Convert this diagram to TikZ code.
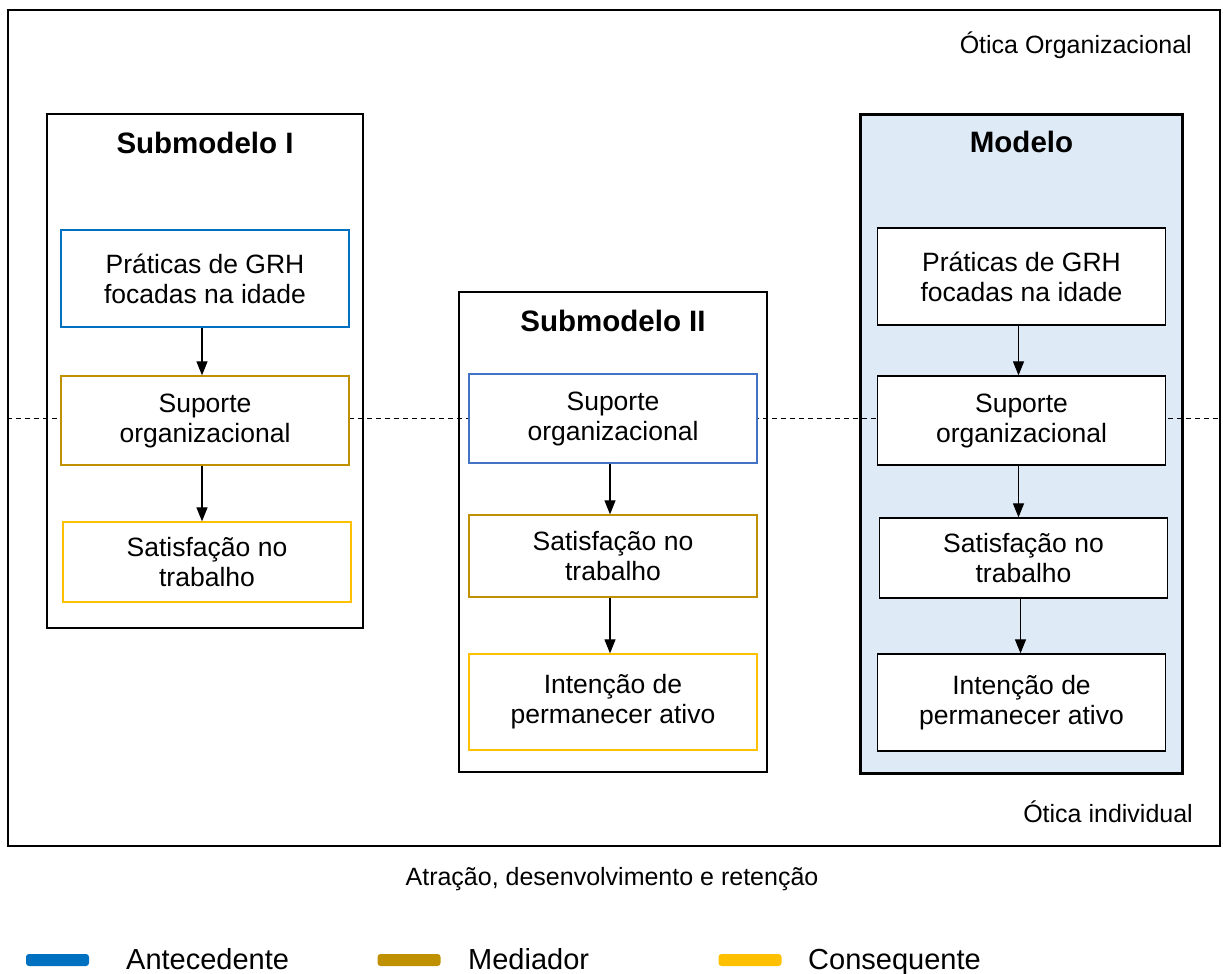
\documentclass[tikz,border=0pt]{standalone}
\usepackage{fontspec}
\setmainfont{Liberation Sans}
\usetikzlibrary{arrows.meta,positioning}

\definecolor{antblue}{HTML}{0070C0}
\definecolor{antblue2}{HTML}{4472C4}
\definecolor{medgold}{HTML}{BF9000}
\definecolor{conyellow}{HTML}{FFC000}
\definecolor{modelfill}{HTML}{DEEAF6}

\tikzset{
  every var/.style={draw, fill=white, line width=1.3pt, align=center,
    minimum width=288pt, inner sep=0pt,
    font=\fontsize{26.5}{30}\selectfont},
  frame/.style={draw, line width=1.5pt, inner sep=0pt},
  title/.style={font=\fontsize{29.5}{33}\selectfont\bfseries, anchor=base},
  side/.style={font=\fontsize{25}{29}\selectfont, inner sep=0pt},
  swatch/.style={rounded corners=3pt, minimum width=63pt, minimum height=12pt, inner sep=0pt},
  legend/.style={anchor=base west, font=\fontsize{29}{33}\selectfont, inner sep=0pt}
}

\begin{document}
\begin{tikzpicture}[x=1pt, y=-1pt, >={Triangle[width=11pt,length=14pt]}]

\useasboundingbox (0,0) rectangle (1223,974);

% outer frame
\node [draw, line width=2pt, minimum width=1212pt, minimum height=836pt, inner sep=0pt] (outer) at (614,428) {};
\node [side, anchor=base east] (org) at (1192,53) {Ótica Organizacional};
\node [side, anchor=base east] (ind) at (1193,822) {Ótica individual};

% submodel frames
\node [frame, minimum width=316pt, minimum height=514pt] (sub1) at (205,371) {};
\node [frame, minimum width=308pt, minimum height=480pt] (sub2) at (613,532) {};
\node [frame, line width=3pt, fill=modelfill, minimum width=322pt, minimum height=659pt] (model) at (1021.5,443.5) {};

\node [title] (tit1) at ([yshift=-40pt]sub1.north) {Submodelo I};
\node [title] (tit2) at ([yshift=-40pt]sub2.north) {Submodelo II};
\node [title] (tit3) at ([yshift=-40pt]model.north) {Modelo};

% dashed separation
\draw [dashed, dash pattern=on 5pt off 4pt, line width=0.9pt] (outer.west |- 0,418) -- (outer.east |- 0,418);

% submodelo I
\node [every var, draw=antblue,  minimum height=97pt] (prat1) at (205,278.5) {Práticas de GRH\\focadas na idade};
\node [every var, draw=medgold,  minimum height=89pt] (sup1)  at (205,420.5) {Suporte\\organizacional};
\node [every var, draw=conyellow, minimum height=80pt] (sat1) at (207,562) {Satisfação no\\trabalho};

% submodelo II
\node [every var, draw=antblue2, minimum height=89pt] (sup2)  at (613,418.5) {Suporte\\organizacional};
\node [every var, draw=medgold,  minimum height=82pt] (sat2)  at (613,556) {Satisfação no\\trabalho};
\node [every var, draw=conyellow, minimum height=96pt] (int2) at (613,702) {Intenção de\\permanecer ativo};

% modelo
\node [every var, minimum height=97pt] (prat3) at (1021.5,276.5) {Práticas de GRH\\focadas na idade};
\node [every var, minimum height=89pt] (sup3)  at (1021.5,420.5) {Suporte\\organizacional};
\node [every var, minimum height=80pt] (sat3)  at (1023.5,558) {Satisfação no\\trabalho};
\node [every var, minimum height=97pt] (int3)  at (1021.5,702.5) {Intenção de\\permanecer ativo};

% arrows
\foreach \a/\b in {prat1/sup1, sup1/sat1, sup2/sat2, sat2/int2, prat3/sup3, sup3/sat3, sat3/int3}
  \draw [->, line width=1.2pt] ([xshift=-3pt]\a.south) -- ([xshift=-3pt]\a.south |- \b.north);

\node [side, anchor=base] (caption) at (612,885) {Atração, desenvolvimento e retenção};

% legend
\foreach \c/\l/\x/\t [count=\i] in {antblue/Antecedente/57.5/126, medgold/Mediador/409/468, conyellow/Consequente/750/808} {
  \node [swatch, fill=\c] (sw-\i) at (\x,960) {};
  \node [legend] (lg-\i) at (\t,969) {\l};
}

\end{tikzpicture}
\end{document}
